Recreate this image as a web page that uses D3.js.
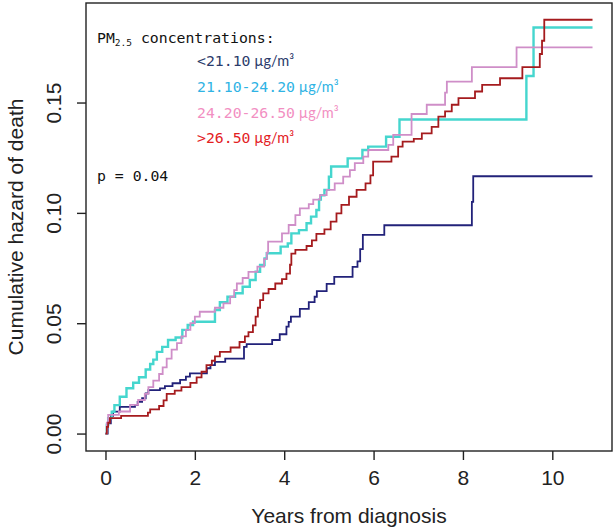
<!DOCTYPE html>
<html><head><meta charset="utf-8">
<script src="https://cdn.jsdelivr.net/npm/d3@7"></script>
<style>body{margin:0;background:#fff}</style>
</head><body><svg id="c" width="616" height="532"></svg>
<script>
// ---- data ----
const xTicks = [0, 2, 4, 6, 8, 10];
const yTicks = [0.00, 0.05, 0.10, 0.15];
const xTitle = "Years from diagnosis";
const yTitle = "Cumulative hazard of death";
const legendTitle = ["PM", "2.5", " concentrations:"];
const legendLabels = ["<21.10", "21.10-24.20", "24.20-26.50", ">26.50"];
const unitLabel = "µg/m³";
const pText = "p = 0.04";
const endTime = 10.9;

// [time (years), cumulative hazard]
const groupLow = [[0,0],[0.05,0.0046],[0.12,0.008],[0.17,0.0099],[0.32,0.0121],[0.66,0.0129],[0.72,0.0144],[0.82,0.016],[0.9,0.0182],[0.96,0.0197],[1.22,0.0205],[1.33,0.0215],[1.5,0.0228],[1.67,0.0243],[1.8,0.0258],[1.89,0.0273],[2.27,0.0296],[2.35,0.031],[2.45,0.0325],[2.68,0.034],[3.1,0.0393],[3.16,0.0405],[3.73,0.0424],[3.9,0.045],[4.05,0.0485],[4.1,0.0506],[4.15,0.053],[4.35,0.0565],[4.55,0.0596],[4.68,0.062],[4.73,0.0645],[4.95,0.0678],[5.12,0.071],[5.53,0.0755],[5.64,0.078],[5.7,0.0836],[5.76,0.0900],[6.24,0.0944],[8.2,0.105],[8.23,0.1166]];
const groupMid1 = [[0,0],[0.03,0.004],[0.06,0.007],[0.14,0.0099],[0.2,0.0129],[0.32,0.0167],[0.47,0.0205],[0.62,0.023],[0.75,0.0255],[0.9,0.029],[1.0,0.0315],[1.07,0.0335],[1.15,0.037],[1.27,0.0393],[1.4,0.0424],[1.57,0.0435],[1.72,0.047],[1.84,0.0492],[1.96,0.0507],[2.45,0.056],[2.56,0.0595],[2.73,0.062],[2.9,0.0636],[3.07,0.0665],[3.23,0.0696],[3.36,0.0733],[3.46,0.0764],[3.56,0.0794],[3.61,0.0817],[3.92,0.0847],[4.08,0.0862],[4.16,0.0907],[4.33,0.0922],[4.5,0.0953],[4.6,0.0983],[4.72,0.1013],[4.78,0.106],[4.82,0.108],[4.9,0.1104],[5.0,0.1164],[5.05,0.121],[5.42,0.1247],[5.75,0.1285],[5.88,0.130],[6.28,0.1345],[6.58,0.1423],[9.42,0.162],[9.58,0.184]];
const groupMid2 = [[0,0],[0.03,0.005],[0.06,0.0085],[0.3,0.01],[0.55,0.013],[0.73,0.0152],[0.88,0.018],[0.96,0.021],[1.07,0.024],[1.2,0.027],[1.28,0.03],[1.37,0.034],[1.48,0.038],[1.6,0.041],[1.7,0.044],[1.8,0.047],[1.9,0.05],[2.0,0.053],[2.11,0.0552],[2.45,0.057],[2.64,0.059],[2.79,0.062],[2.88,0.065],[2.94,0.068],[3.07,0.0705],[3.2,0.0733],[3.4,0.0756],[3.55,0.079],[3.61,0.082],[3.64,0.087],[3.95,0.0907],[4.1,0.0945],[4.25,0.099],[4.35,0.102],[4.55,0.104],[4.65,0.106],[4.8,0.108],[4.95,0.1104],[5.13,0.1134],[5.32,0.1164],[5.47,0.1194],[5.58,0.1225],[5.77,0.1255],[5.88,0.1285],[6.33,0.1308],[6.44,0.1353],[6.85,0.1448],[7.19,0.149],[7.6,0.1545],[7.64,0.1595],[8.2,0.166],[9.2,0.175]];
const groupHigh = [[0,0],[0.03,0.003],[0.06,0.005],[0.1,0.007],[0.35,0.008],[0.95,0.0095],[1.0,0.011],[1.2,0.0125],[1.3,0.015],[1.37,0.018],[1.55,0.0195],[1.7,0.021],[1.9,0.023],[2.04,0.0255],[2.15,0.028],[2.26,0.031],[2.38,0.033],[2.45,0.035],[2.56,0.037],[2.8,0.039],[3.0,0.0415],[3.12,0.044],[3.2,0.046],[3.3,0.049],[3.36,0.053],[3.41,0.057],[3.46,0.0605],[3.53,0.0635],[3.65,0.0655],[3.8,0.068],[3.95,0.07],[4.05,0.0725],[4.13,0.0765],[4.16,0.0815],[4.25,0.0832],[4.5,0.085],[4.62,0.0875],[4.72,0.0905],[4.9,0.0925],[5.04,0.096],[5.17,0.0998],[5.28,0.1036],[5.45,0.1073],[5.62,0.1104],[5.82,0.1134],[5.93,0.117],[5.99,0.1232],[6.4,0.1255],[6.55,0.13],[6.65,0.1323],[6.9,0.1335],[7.08,0.136],[7.3,0.139],[7.45,0.1436],[7.6,0.146],[7.75,0.149],[7.9,0.152],[8.27,0.155],[8.43,0.158],[8.83,0.161],[9.33,0.166],[9.72,0.172],[9.77,0.178],[9.82,0.1875]];

const seriesData = [groupLow, groupMid1, groupMid2, groupHigh];
const lineColors = ["#22227a", "#45d6ce", "#cf8ec8", "#a51b1e"];
const lineWidths = [1.8, 2.4, 1.8, 1.8];
const textColors = ["#2b3b6b", "#2fb3e4", "#f28fc2", "#e3211f"];

// ---- chart ----
const svg = d3.select("#c");
const L = 86, R = 612, T = 3, B = 451;
const x = d3.scaleLinear().domain([-0.436, 11.336]).range([L, R]);
const y = d3.scaleLinear().domain([-0.0079, 0.1951]).range([B, T]);
const axisFont = "'Liberation Sans', Arial, sans-serif";
const ink = "#222";
const fs = 21;

const line = d3.line().x(d => x(d[0])).y(d => y(d[1])).curve(d3.curveStepAfter);
seriesData.forEach((s, i) => {
  const pts = s.concat([[endTime, s[s.length - 1][1]]]);
  svg.append("path").attr("d", line(pts)).attr("fill", "none")
    .attr("stroke", lineColors[i]).attr("stroke-width", lineWidths[i]);
});

svg.append("rect").attr("x", L).attr("y", T).attr("width", R - L).attr("height", B - T)
  .attr("fill", "none").attr("stroke", ink).attr("stroke-width", 1.4);

const xa = svg.append("g").attr("transform", `translate(0,${B})`)
  .call(d3.axisBottom(x).tickValues(xTicks).tickSize(9).tickPadding(10).tickFormat(d3.format("d")));
xa.select(".domain").remove();
xa.selectAll("line").attr("stroke", ink).attr("stroke-width", 1.4);
xa.selectAll("text").attr("font-family", axisFont).attr("font-size", fs).attr("fill", ink);

const ya = svg.append("g").attr("transform", `translate(${L},0)`)
  .call(d3.axisLeft(y).tickValues(yTicks).tickSize(9).tickFormat(d3.format(".2f")));
ya.select(".domain").remove();
ya.selectAll("line").attr("stroke", ink).attr("stroke-width", 1.4);
ya.selectAll("text").attr("font-family", axisFont).attr("font-size", fs).attr("fill", ink)
  .attr("transform", "rotate(-90)").attr("x", 0).attr("y", -25).attr("dy", 0)
  .attr("text-anchor", "middle");

svg.append("text").attr("x", (L + R) / 2).attr("y", 523).attr("text-anchor", "middle")
  .attr("font-family", axisFont).attr("font-size", fs).attr("fill", ink).text(xTitle);
svg.append("text").attr("transform", `translate(23,${(T + B) / 2}) rotate(-90)`)
  .attr("text-anchor", "middle").attr("font-family", axisFont).attr("font-size", fs)
  .attr("fill", ink).text(yTitle);

// legend
const mono = "'DejaVu Sans Mono', 'Liberation Mono', monospace";
const prop = "Lato, 'Open Sans', sans-serif";
const lt = svg.append("text").attr("x", 97).attr("y", 43).attr("font-family", mono)
  .attr("font-size", 14.8).attr("fill", "#111");
lt.append("tspan").text(legendTitle[0]);
lt.append("tspan").attr("font-size", 9.5).attr("dy", 3).text(legendTitle[1]);
lt.append("tspan").attr("dy", -3).text(legendTitle[2]);

const legY = [66, 92, 118, 143];
legendLabels.forEach((lab, i) => {
  const t = svg.append("text").attr("x", 197).attr("y", legY[i]).attr("fill", textColors[i]);
  t.append("tspan").attr("font-family", mono).attr("font-size", 14.8).text(lab);
  t.append("tspan").attr("font-family", prop).attr("font-size", 14.5).text(" " + unitLabel);
});
svg.append("text").attr("x", 97).attr("y", 181).attr("font-family", mono)
  .attr("font-size", 14.8).attr("fill", "#111").text(pText);
</script></body></html>
